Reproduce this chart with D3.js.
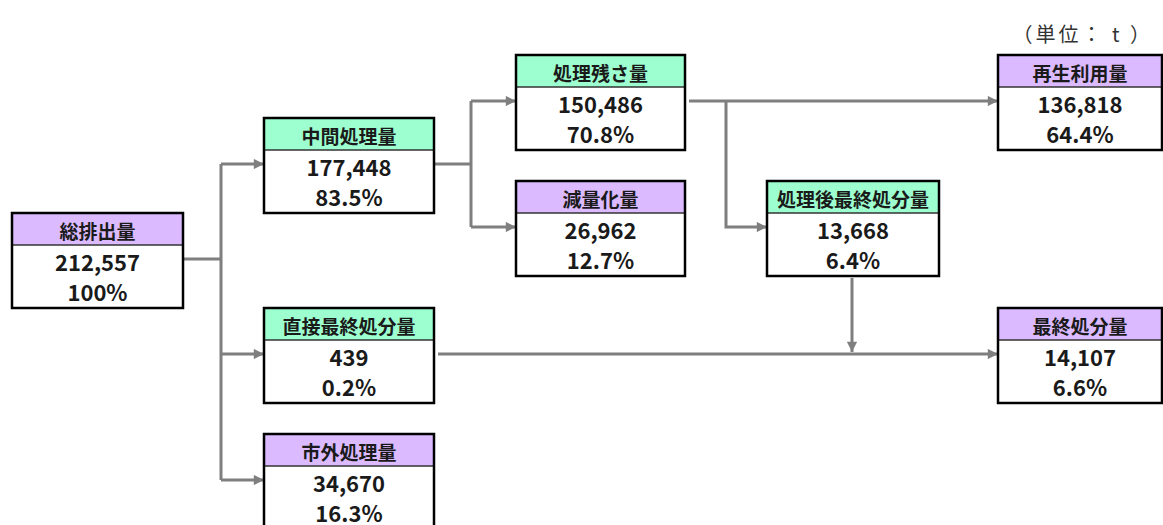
<!DOCTYPE html>
<html>
<head>
<meta charset="utf-8">
<script src="https://cdn.jsdelivr.net/npm/d3@7"></script>
<style>
  body { margin: 0; background: #fff; }
  svg { display: block; font-family: "Noto Sans CJK JP", "Noto Sans", sans-serif; }
</style>
</head>
<body>
<div id="flow"></div>
<script>
// flow of waste (unit: t)
var names = ["総排出量", "中間処理量", "直接最終処分量", "市外処理量", "処理残さ量", "減量化量", "処理後最終処分量", "再生利用量", "最終処分量"];
var amounts = [212557, 177448, 439, 34670, 150486, 26962, 13668, 136818, 14107];
var shares = ["100%", "83.5%", "0.2%", "16.3%", "70.8%", "12.7%", "6.4%", "64.4%", "6.6%"];
var kinds = ["p", "g", "g", "p", "g", "p", "g", "p", "p"];
var unitLabel = "（単位： t ）";

var svgWidth = 1163, svgHeight = 525;

// layout: column / top of each box
var cols = [0, 1, 1, 1, 2, 2, 3, 4, 4];
var tops = [213, 118, 308, 434, 55, 181, 181, 55, 308];
var colX = d3.scaleOrdinal().domain([0, 1, 2, 3, 4]).range([12, 264, 516, 767, 998]);
var colW = d3.scaleOrdinal().domain([0, 1, 2, 3, 4]).range([171, 170, 169, 172, 164]);
var headH = 32, bodyH = 63;
var fill = { p: "#dbbaff", g: "#9dffcf" };
var lineColor = "#7f7f7f";

var nodes = names.map(function(n, i) {
  return { name: n, value: amounts[i], pct: shares[i], kind: kinds[i],
           x: colX(cols[i]), w: colW(cols[i]), y: tops[i] };
});

var svg = d3.select("#flow").append("svg")
  .attr("width", svgWidth)
  .attr("height", svgHeight);

svg.append("defs").append("marker")
  .attr("id", "arr")
  .attr("viewBox", "0 0 10 10")
  .attr("refX", 10).attr("refY", 5)
  .attr("markerWidth", 4).attr("markerHeight", 3.4)
  .attr("markerUnits", "strokeWidth")
  .attr("orient", "auto")
  .append("path")
  .attr("d", "M0,0L10,5L0,10z")
  .attr("fill", lineColor);

function mid(n) { return n.y + headH + 14; }
function N(name) { return nodes[names.indexOf(name)]; }

// connectors
var a = N("総排出量"), b = N("中間処理量"), c = N("直接最終処分量"), d = N("市外処理量");
var e = N("処理残さ量"), f = N("減量化量"), g = N("処理後最終処分量"), h = N("再生利用量"), k = N("最終処分量");
var bx1 = 221, bx2 = 471, bx3 = 726;

var plain = [
  [[a.x + a.w, mid(a)], [bx1, mid(a)]],
  [[bx1, mid(b)], [bx1, mid(d)]],
  [[b.x + b.w, mid(b)], [bx2, mid(b)]],
  [[bx2, mid(e)], [bx2, mid(f)]]
];
var arrows = [
  [[bx1, mid(b)], [b.x, mid(b)]],
  [[bx1, mid(c)], [c.x, mid(c)]],
  [[bx1, mid(d)], [d.x, mid(d)]],
  [[bx2, mid(e)], [e.x, mid(e)]],
  [[bx2, mid(f)], [f.x, mid(f)]],
  [[e.x + e.w + 4, mid(e)], [h.x, mid(h)]],
  [[bx3, mid(e)], [bx3, mid(g)], [g.x, mid(g)]],
  [[c.x + c.w + 4, mid(c)], [k.x, mid(k)]],
  [[g.x + g.w / 2 - 1, g.y + headH + bodyH + 2], [g.x + g.w / 2 - 1, mid(c) - 2]]
];
var line = d3.line();

svg.append("g").selectAll("path").data(plain).join("path")
  .attr("d", line).attr("fill", "none")
  .attr("stroke", lineColor).attr("stroke-width", 3);

svg.append("g").selectAll("path").data(arrows).join("path")
  .attr("d", line).attr("fill", "none")
  .attr("stroke", lineColor).attr("stroke-width", 3)
  .attr("marker-end", "url(#arr)");

// boxes
var box = svg.append("g").selectAll("g").data(nodes).join("g")
  .attr("transform", function(n) { return "translate(" + n.x + "," + n.y + ")"; });

box.append("rect")
  .attr("width", function(n) { return n.w; })
  .attr("height", headH + bodyH)
  .attr("fill", "#fff");
box.append("rect")
  .attr("width", function(n) { return n.w; })
  .attr("height", headH)
  .attr("fill", function(n) { return fill[n.kind]; });
box.append("line")
  .attr("x1", 0).attr("x2", function(n) { return n.w; })
  .attr("y1", headH).attr("y2", headH)
  .attr("stroke", "#333").attr("stroke-width", 1.5);
box.append("rect")
  .attr("width", function(n) { return n.w; })
  .attr("height", headH + bodyH)
  .attr("fill", "none")
  .attr("stroke", "#000")
  .attr("stroke-width", 2.5);

box.append("text")
  .attr("x", function(n) { return n.w / 2; })
  .attr("y", headH / 2 + 1)
  .attr("text-anchor", "middle")
  .attr("dominant-baseline", "central")
  .attr("font-size", 19).attr("font-weight", "bold").attr("fill", "#1a1a1a")
  .text(function(n) { return n.name; });

box.append("text")
  .attr("x", function(n) { return n.w / 2; })
  .attr("y", headH + 16)
  .attr("text-anchor", "middle")
  .attr("dominant-baseline", "central")
  .attr("font-size", 22).attr("font-weight", "bold").attr("fill", "#1a1a1a")
  .text(function(n) { return d3.format(",")(n.value); });

box.append("text")
  .attr("x", function(n) { return n.w / 2; })
  .attr("y", headH + 46)
  .attr("text-anchor", "middle")
  .attr("dominant-baseline", "central")
  .attr("font-size", 22).attr("font-weight", "bold").attr("fill", "#1a1a1a")
  .text(function(n) { return n.pct; });

svg.append("text")
  .attr("x", 1153).attr("y", 33)
  .attr("text-anchor", "end")
  .attr("dominant-baseline", "central")
  .attr("font-size", 20).attr("letter-spacing", 3).attr("fill", "#333")
  .text(unitLabel);
</script>
</body>
</html>
